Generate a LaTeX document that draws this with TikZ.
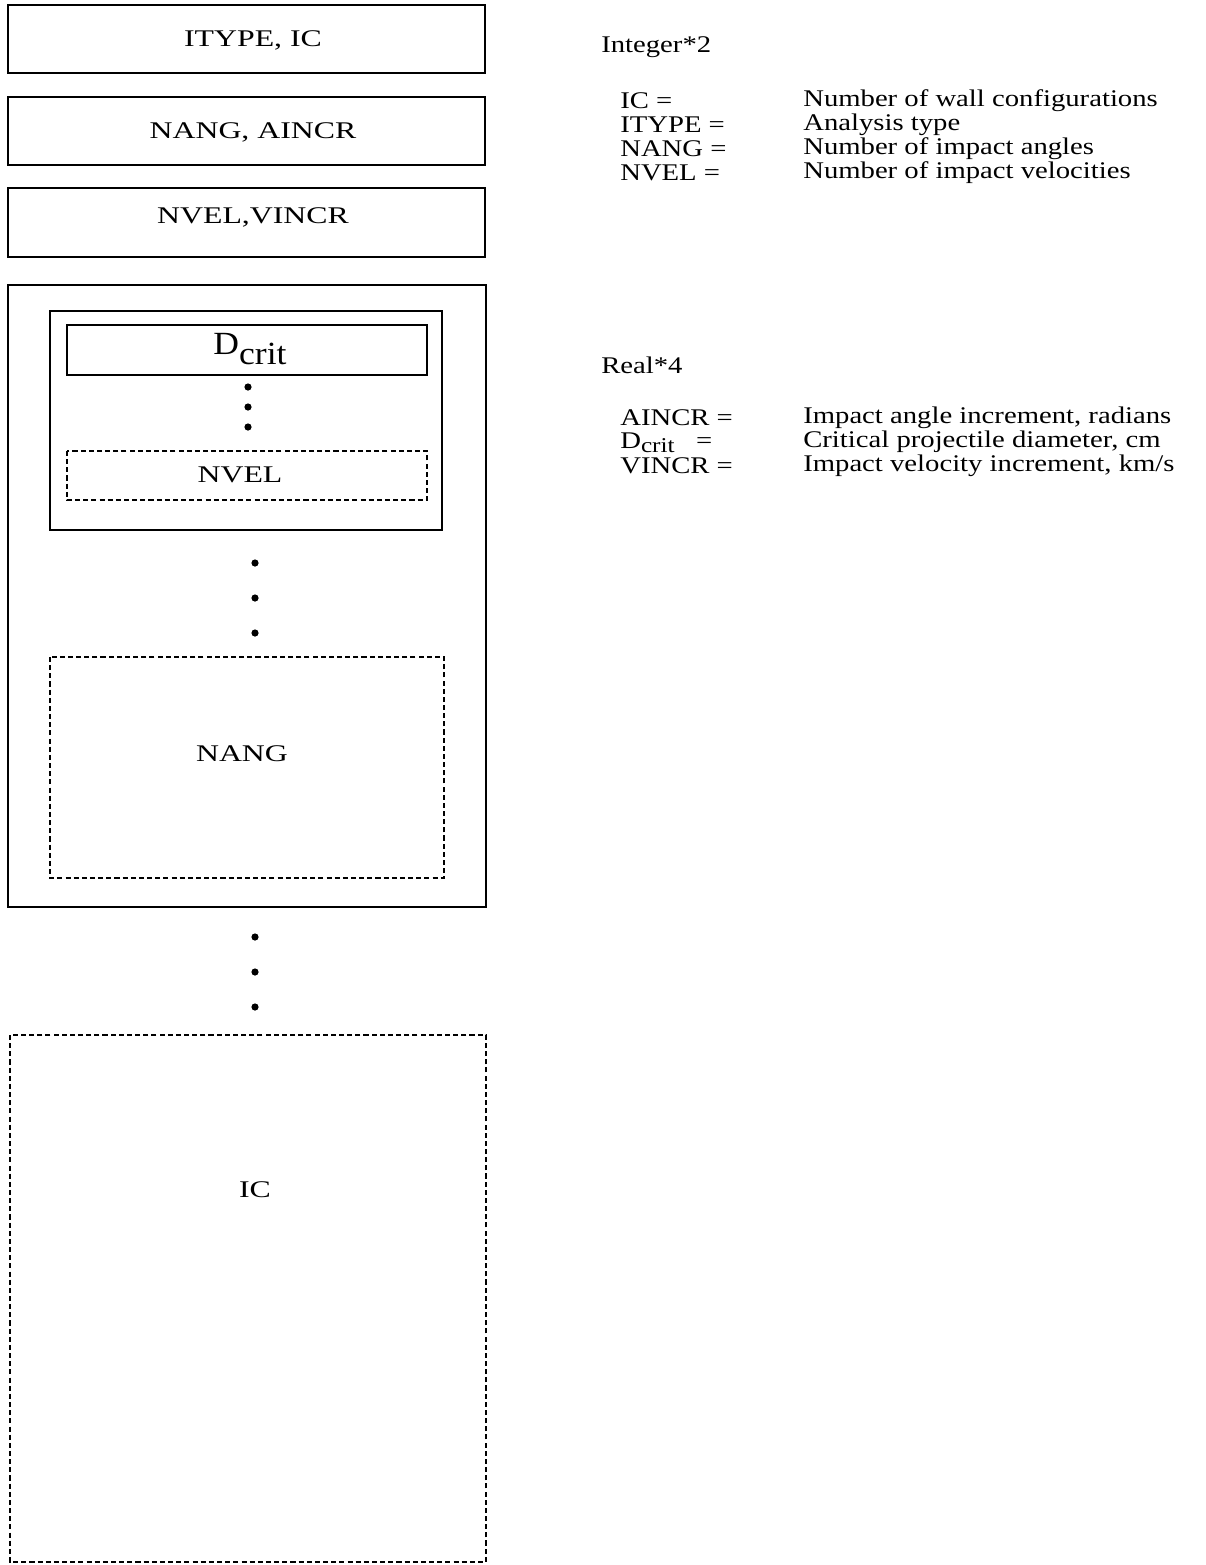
\documentclass[tikz,border=0pt]{standalone}
\usepackage{fontspec}
\setmainfont[FakeStretch=1.1]{Liberation Serif}
\newfontfamily\widefont[FakeStretch=1.33]{Liberation Serif}
\newfontfamily\keyfont[FakeStretch=1.2]{Liberation Serif}
\usepackage{tikz}
\usetikzlibrary{positioning}

\tikzset{
  solidbox/.style={draw=black, line width=2pt},
  dashbox/.style={draw=black, line width=2pt, dash pattern=on 3.6pt off 2.2pt},
  boxtext/.style={font=\widefont\fontsize{17}{20}\selectfont},
  keytext/.style={anchor=west, inner sep=0pt, font=\keyfont\fontsize{17}{20}\selectfont},
  dot/.style={fill=black}
}

\begin{document}
\begin{tikzpicture}[x=0.025cm, y=-0.025cm]
      \useasboundingbox (0,0) rectangle (1205,1565);
      % Header records
      \draw[solidbox] (8,5) rectangle (485,73);
      \node[boxtext] (hdrtype) at (253,40) {ITYPE, IC};
      \draw[solidbox] (8,97) rectangle (485,165);
      \node[boxtext] (hdrang) at (253,132) {NANG, AINCR};
      \draw[solidbox] (8,188) rectangle (485,257);
      \node[boxtext] (hdrvel) at (253,217) {NVEL,VINCR};
      % One wall configuration
      \draw[solidbox] (8,285) rectangle (486,907);
      \draw[solidbox] (50,311) rectangle (442,530);
      \draw[solidbox] (67,325) rectangle (427,375);
      \node[font=\fontsize{23}{26}\selectfont] (dcrit) at (250,349)
        {D\raisebox{-0.3em}{crit}};
      \foreach \y in {387, 407, 427} {
        \fill[dot] (248,\y) circle (3.6);
      }
      \draw[dashbox] (67,451) rectangle (427,500);
      \node[boxtext] (nvel) at (240,475) {NVEL};
      \foreach \y in {563, 598, 633} {
        \fill[dot] (255,\y) circle (3.6);
      }
      \draw[dashbox] (50,657) rectangle (444,878);
      \node[boxtext] (nang) at (242,754) {NANG};
      % Remaining wall configurations
      \foreach \y in {937, 972, 1007} {
        \fill[dot] (255,\y) circle (3.6);
      }
      \draw[dashbox] (10,1035) rectangle (486,1562);
      \node[boxtext] (ic) at (255,1190) {IC};
      % Key
      \node[keytext] (intkey) at (601,47) {Integer*2};
      \node[keytext] (icname) at (620,101) {IC =};
      \node[keytext] (icdesc) at (803,101) {Number of wall configurations};
      \node[keytext] (typename) at (620,125) {ITYPE =};
      \node[keytext] (typedesc) at (803,125) {Analysis type};
      \node[keytext] (angname) at (620,149) {NANG =};
      \node[keytext] (angdesc) at (803,149) {Number of impact angles};
      \node[keytext] (velname) at (620,173) {NVEL =};
      \node[keytext] (veldesc) at (803,173) {Number of impact velocities};
      \node[keytext] (realkey) at (601,365) {Real*4};
      \node[keytext] (aincrname) at (620,418) {AINCR =};
      \node[keytext] (aincrdesc) at (803,418) {Impact angle increment, radians};
      \node[keytext] (dcritname) at (620,443)
        {D\raisebox{-0.15em}{\fontsize{15}{17}\selectfont crit}\hspace{0.9em}=};
      \node[keytext] (dcritdesc) at (803,442) {Critical projectile diameter, cm};
      \node[keytext] (vincrname) at (620,466) {VINCR =};
      \node[keytext] (vincrdesc) at (803,466) {Impact velocity increment, km/s};
\end{tikzpicture}
\end{document}
